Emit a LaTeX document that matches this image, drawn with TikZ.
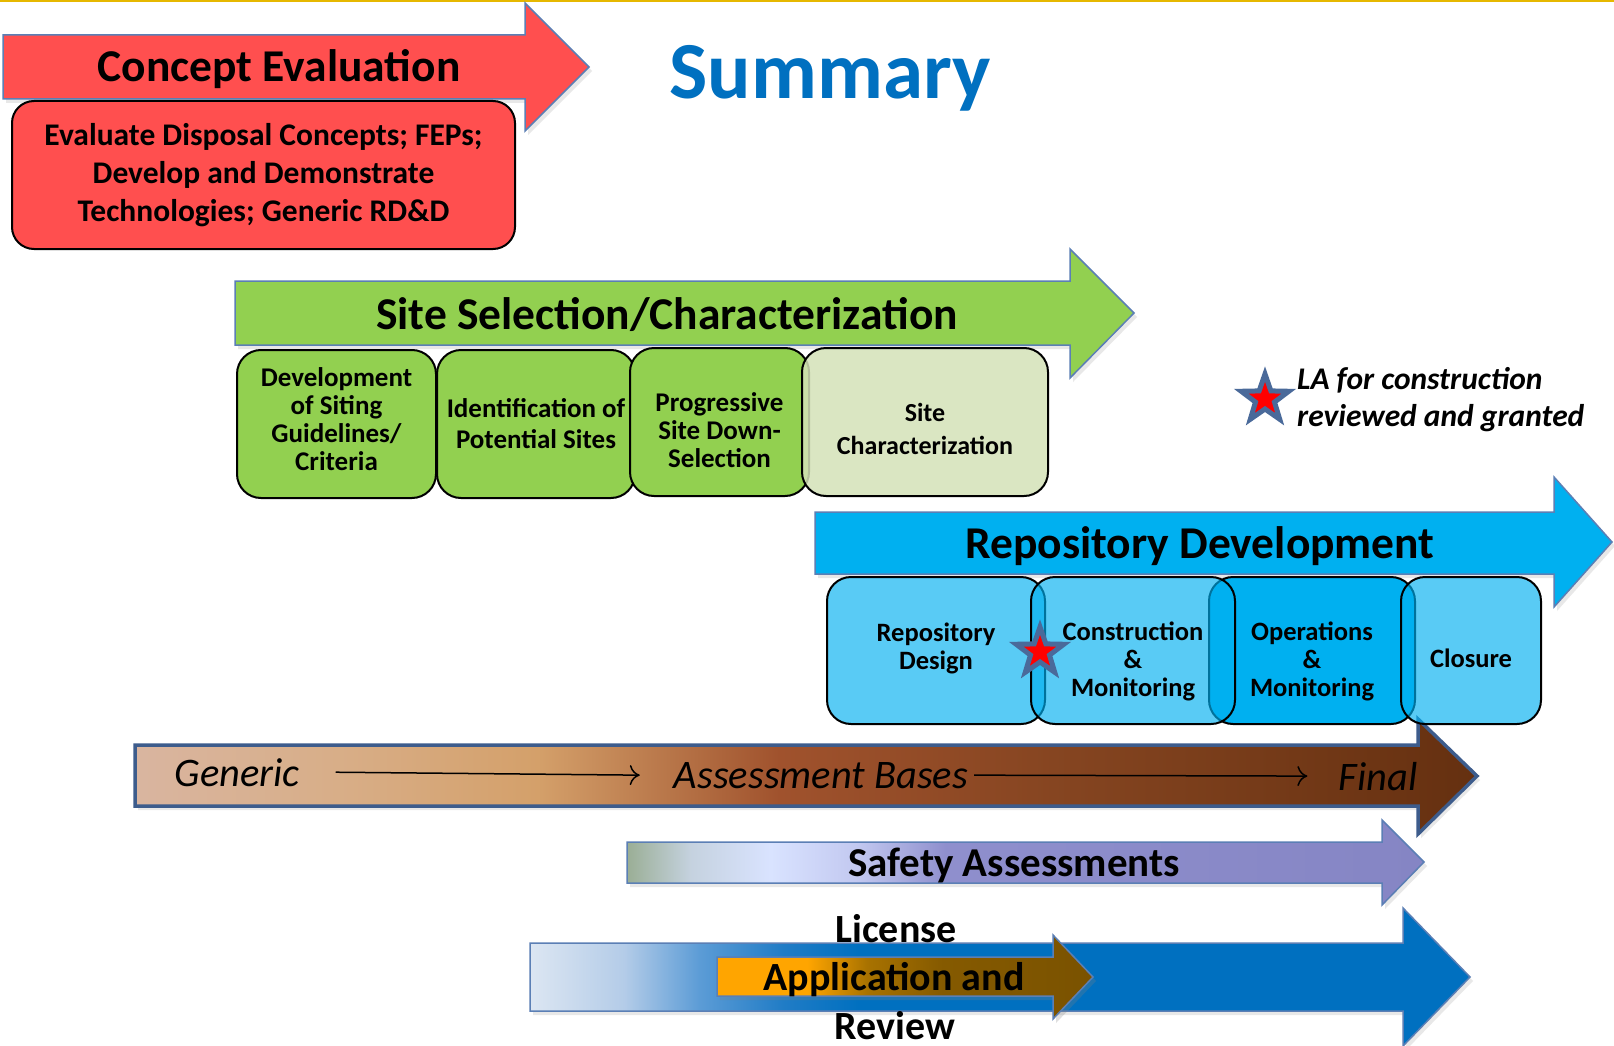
\documentclass[tikz,border=0pt]{standalone}
\usepackage{fontspec}
\setmainfont{Carlito}
\usetikzlibrary{shapes.geometric,arrows.meta,shadows}

\definecolor{ygold}{HTML}{E6B800}
\definecolor{cered}{HTML}{FF4F4F}
\definecolor{arrowborder}{HTML}{5B7FB5}
\definecolor{sitegreen}{HTML}{92D050}
\definecolor{sitelight}{HTML}{D4E2B8}
\definecolor{repblue}{HTML}{00B0F0}
\definecolor{sumblue}{HTML}{0070C0}
\definecolor{starblue}{HTML}{4A6A9A}
\definecolor{brownborder}{HTML}{3D5C8C}
% brown shading
\definecolor{brA}{HTML}{D9B5A0}
\definecolor{brB}{HTML}{D8AE88}
\definecolor{brC}{HTML}{D4A06A}
\definecolor{brD}{HTML}{A0522D}
\definecolor{brE}{HTML}{844420}
\definecolor{brF}{HTML}{653010}
% safety shading
\definecolor{saA}{HTML}{9AAE95}
\definecolor{saB}{HTML}{C5D2DF}
\definecolor{saC}{HTML}{D9E3FF}
\definecolor{saD}{HTML}{C2C8F0}
\definecolor{saE}{HTML}{8F8FCD}
\definecolor{saF}{HTML}{8585C4}
% license shading
\definecolor{liA}{HTML}{DCE6F2}
\definecolor{liB}{HTML}{B4CCE8}
\definecolor{liC}{HTML}{5C9CD6}
\definecolor{liD}{HTML}{207CC6}
\definecolor{liE}{HTML}{0070C0}
% orange shading
\definecolor{orA}{HTML}{FFA500}
\definecolor{orB}{HTML}{A87200}
\definecolor{orC}{HTML}{855A00}
\definecolor{orD}{HTML}{7A5200}

\pgfdeclarehorizontalshading{brownsh}{100bp}{color(0bp)=(brA); color(25bp)=(brA); color(32.5bp)=(brB); color(40bp)=(brC); color(49bp)=(brD); color(60bp)=(brE); color(75bp)=(brF); color(100bp)=(brF)}
\pgfdeclarehorizontalshading{safetysh}{100bp}{color(0bp)=(saA); color(25bp)=(saA); color(29bp)=(saB); color(34bp)=(saC); color(39.5bp)=(saD); color(45bp)=(saE); color(75bp)=(saF); color(100bp)=(saF)}
\pgfdeclarehorizontalshading{licensesh}{100bp}{color(0bp)=(liA); color(25bp)=(liA); color(30bp)=(liB); color(34bp)=(liC); color(38.5bp)=(liD); color(42.5bp)=(liE); color(75bp)=(liE); color(100bp)=(liE)}
\pgfdeclarehorizontalshading{orangesh}{100bp}{color(0bp)=(orA); color(25bp)=(orA); color(37bp)=(orA); color(45bp)=(orB); color(55bp)=(orC); color(75bp)=(orD); color(100bp)=(orD)}

\tikzset{
  arrowshape/.style={draw=arrowborder, line width=1.5pt,
    drop shadow={opacity=0.18, shadow xshift=3pt, shadow yshift=-4pt}},
  banner/.style={font=\bfseries\fontsize{45.5}{54}\selectfont, inner sep=0pt, anchor=base},
  lowbanner/.style={font=\bfseries\fontsize{41}{48}\selectfont, inner sep=0pt, anchor=base},
  stagebox/.style={draw=black, line width=2pt, rounded corners=24pt, inner sep=0pt},
  bluebox/.style={stagebox, fill=repblue, fill opacity=0.65},
  gtext/.style={align=center, inner sep=0pt, font=\bfseries\fontsize{27}{28}\selectfont},
  btext/.style={align=center, inner sep=0pt, font=\bfseries\fontsize{26.5}{28}\selectfont},
  basetext/.style={font=\itshape\fontsize{40.5}{48}\selectfont, inner sep=0pt, anchor=base},
  conn/.style={draw=black, line width=1.5pt, -{To[length=10pt,width=20pt]}},
  lastar/.style={star, star points=5, star point ratio=2.5, minimum size=50pt,
    inner sep=0pt, fill=red, draw=starblue, line width=5pt},
}

\begin{document}
\begin{tikzpicture}[x=1pt,y=-1pt]
\useasboundingbox (0,0) rectangle (1614,1046);
\fill[white] (0,0) rectangle (1614,1046);
\fill[ygold] (0,0) rectangle (1614,2.5);

% Concept Evaluation
\filldraw[arrowshape, fill=cered] (3,35) -- (525,35) -- (525,3) -- (589,67) -- (525,131) -- (525,99) -- (3,99) -- cycle;
\node[banner] (ce) at (279,82) {Concept Evaluation};
\node[draw=black, line width=2pt, fill=cered, rounded corners=22pt, minimum width=503pt,
  minimum height=148pt, align=center, inner sep=0pt,
  font=\bfseries\fontsize{31.5}{38}\selectfont] (ceb) at (263.5,175)
  {Evaluate Disposal Concepts; FEPs;\\Develop and Demonstrate\\Technologies; Generic RD\&D};

% Summary
\node[anchor=base, inner sep=0pt, text=sumblue, font=\bfseries\fontsize{81}{90}\selectfont] (sum) at (830,99) {Summary};

% Site Selection
\filldraw[arrowshape, fill=sitegreen] (235,281) -- (1070,281) -- (1070,249) -- (1134,313) -- (1070,378) -- (1070,345) -- (235,345) -- cycle;
\node[banner] (ss) at (667,329) {Site Selection/Characterization};
\node[stagebox, fill=sitegreen, minimum width=199pt, minimum height=148pt] (g1) at (336.5,424) {};
\node[stagebox, fill=sitegreen, minimum width=198pt, minimum height=148pt] (g2) at (536,424) {};
\node[stagebox, fill=sitegreen, minimum width=179pt, minimum height=148pt] (g3) at (719.5,422) {};
\node[stagebox, fill=sitelight, fill opacity=0.85, minimum width=246pt, minimum height=148pt] (g4) at (925,422) {};
\node[gtext] (g1t) at ([yshift=5pt]g1.center) {Development\\of Siting\\Guidelines/\\Criteria};
\node[gtext] (g2t) at (g2.center) {Identification of\\[3pt]Potential Sites};
\node[gtext] (g3t) at ([yshift=-8pt]g3.center) {Progressive\\Site Down-\\Selection};
\node[gtext, font=\bfseries\fontsize{26}{33}\selectfont] (g4t) at ([yshift=-7pt]g4.center) {Site\\Characterization};

% legend
\node[lastar] (lstar) at (1265,399) {};
\node[anchor=west, align=left, inner sep=0pt, font=\bfseries\itshape\fontsize{31.5}{37}\selectfont] (leg) at (1297,400) {LA for construction\\reviewed and granted};

% Repository Development
\filldraw[arrowshape, fill=repblue] (815,512) -- (1554,512) -- (1554,477) -- (1612,542) -- (1554,607) -- (1554,574) -- (815,574) -- cycle;
\node[banner] (rd) at (1200,558) {Repository Development};

% Assessment bases arrow (drawn below the boxes)
\shadedraw[shading=brownsh, draw=brownborder, line width=3.5pt,
  drop shadow={opacity=0.18, shadow xshift=3pt, shadow yshift=-4pt}]
  (135,745) -- (1418,745) -- (1418,719) -- (1477,776) -- (1418,834) -- (1418,806) -- (135,806) -- cycle;

\node[bluebox, minimum width=218pt, minimum height=147pt] (b1) at (936,650.5) {};
\node[bluebox, fill opacity=1, minimum width=206pt, minimum height=147pt] (b3) at (1312,650.5) {};
\node[bluebox, minimum width=204pt, minimum height=147pt] (b2) at (1133,650.5) {};
\node[bluebox, minimum width=140pt, minimum height=147pt] (b4) at (1471,650.5) {};
\node[btext] (b1t) at ([yshift=2pt]b1.center) {Repository\\Design};
\node[btext] (b2t) at ([yshift=-11pt]b2.center) {Construction\\\&\\Monitoring};
\node[btext] (b3t) at ([yshift=-11pt]b3.center) {Operations\\\&\\Monitoring};
\node[btext] (b4t) at ([yshift=-8pt]b4.center) {Closure};
\node[lastar] (bstar) at (1040,652) {};

% Assessment bases texts
\node[basetext] (gen) at (237,786) {Generic};
\node[basetext] (ab) at (821,788) {Assessment Bases};
\node[basetext] (fin) at (1378,790) {Final};
\draw[conn] ([xshift=36pt]gen.east) -- ([xshift=-34pt]ab.west);
\draw[conn] ([xshift=6pt]ab.east) -- ([xshift=-31pt]fin.west);

% Safety assessments
\shadedraw[shading=safetysh, draw=arrowborder, line width=1.5pt,
  drop shadow={opacity=0.18, shadow xshift=3pt, shadow yshift=-4pt}]
  (627,842) -- (1382,842) -- (1382,820) -- (1424,862) -- (1382,905) -- (1382,883) -- (627,883) -- cycle;
\node[lowbanner] (sa) at (1014,876) {Safety Assessments};

% License application
\shadedraw[shading=licensesh, draw=arrowborder, line width=1.5pt,
  drop shadow={opacity=0.18, shadow xshift=3pt, shadow yshift=-4pt}]
  (530,943) -- (1403,943) -- (1403,908) -- (1470,977) -- (1403,1046) -- (1403,1011) -- (530,1011) -- cycle;
\shadedraw[shading=orangesh, draw=arrowborder, line width=1.5pt,
  drop shadow={opacity=0.25, shadow xshift=3pt, shadow yshift=-4pt}]
  (717,957) -- (1053,957) -- (1053,935) -- (1093,977) -- (1053,1019) -- (1053,996) -- (717,996) -- cycle;
\node[font=\bfseries\fontsize{40}{48}\selectfont, inner sep=0pt, anchor=base] (l1) at (896,942) {License};
\node[font=\bfseries\fontsize{40}{48}\selectfont, inner sep=0pt, anchor=base] (l2) at (894,990) {Application and};
\node[font=\bfseries\fontsize{40}{48}\selectfont, inner sep=0pt, anchor=base] (l3) at (895,1039) {Review};
\end{tikzpicture}
\end{document}
